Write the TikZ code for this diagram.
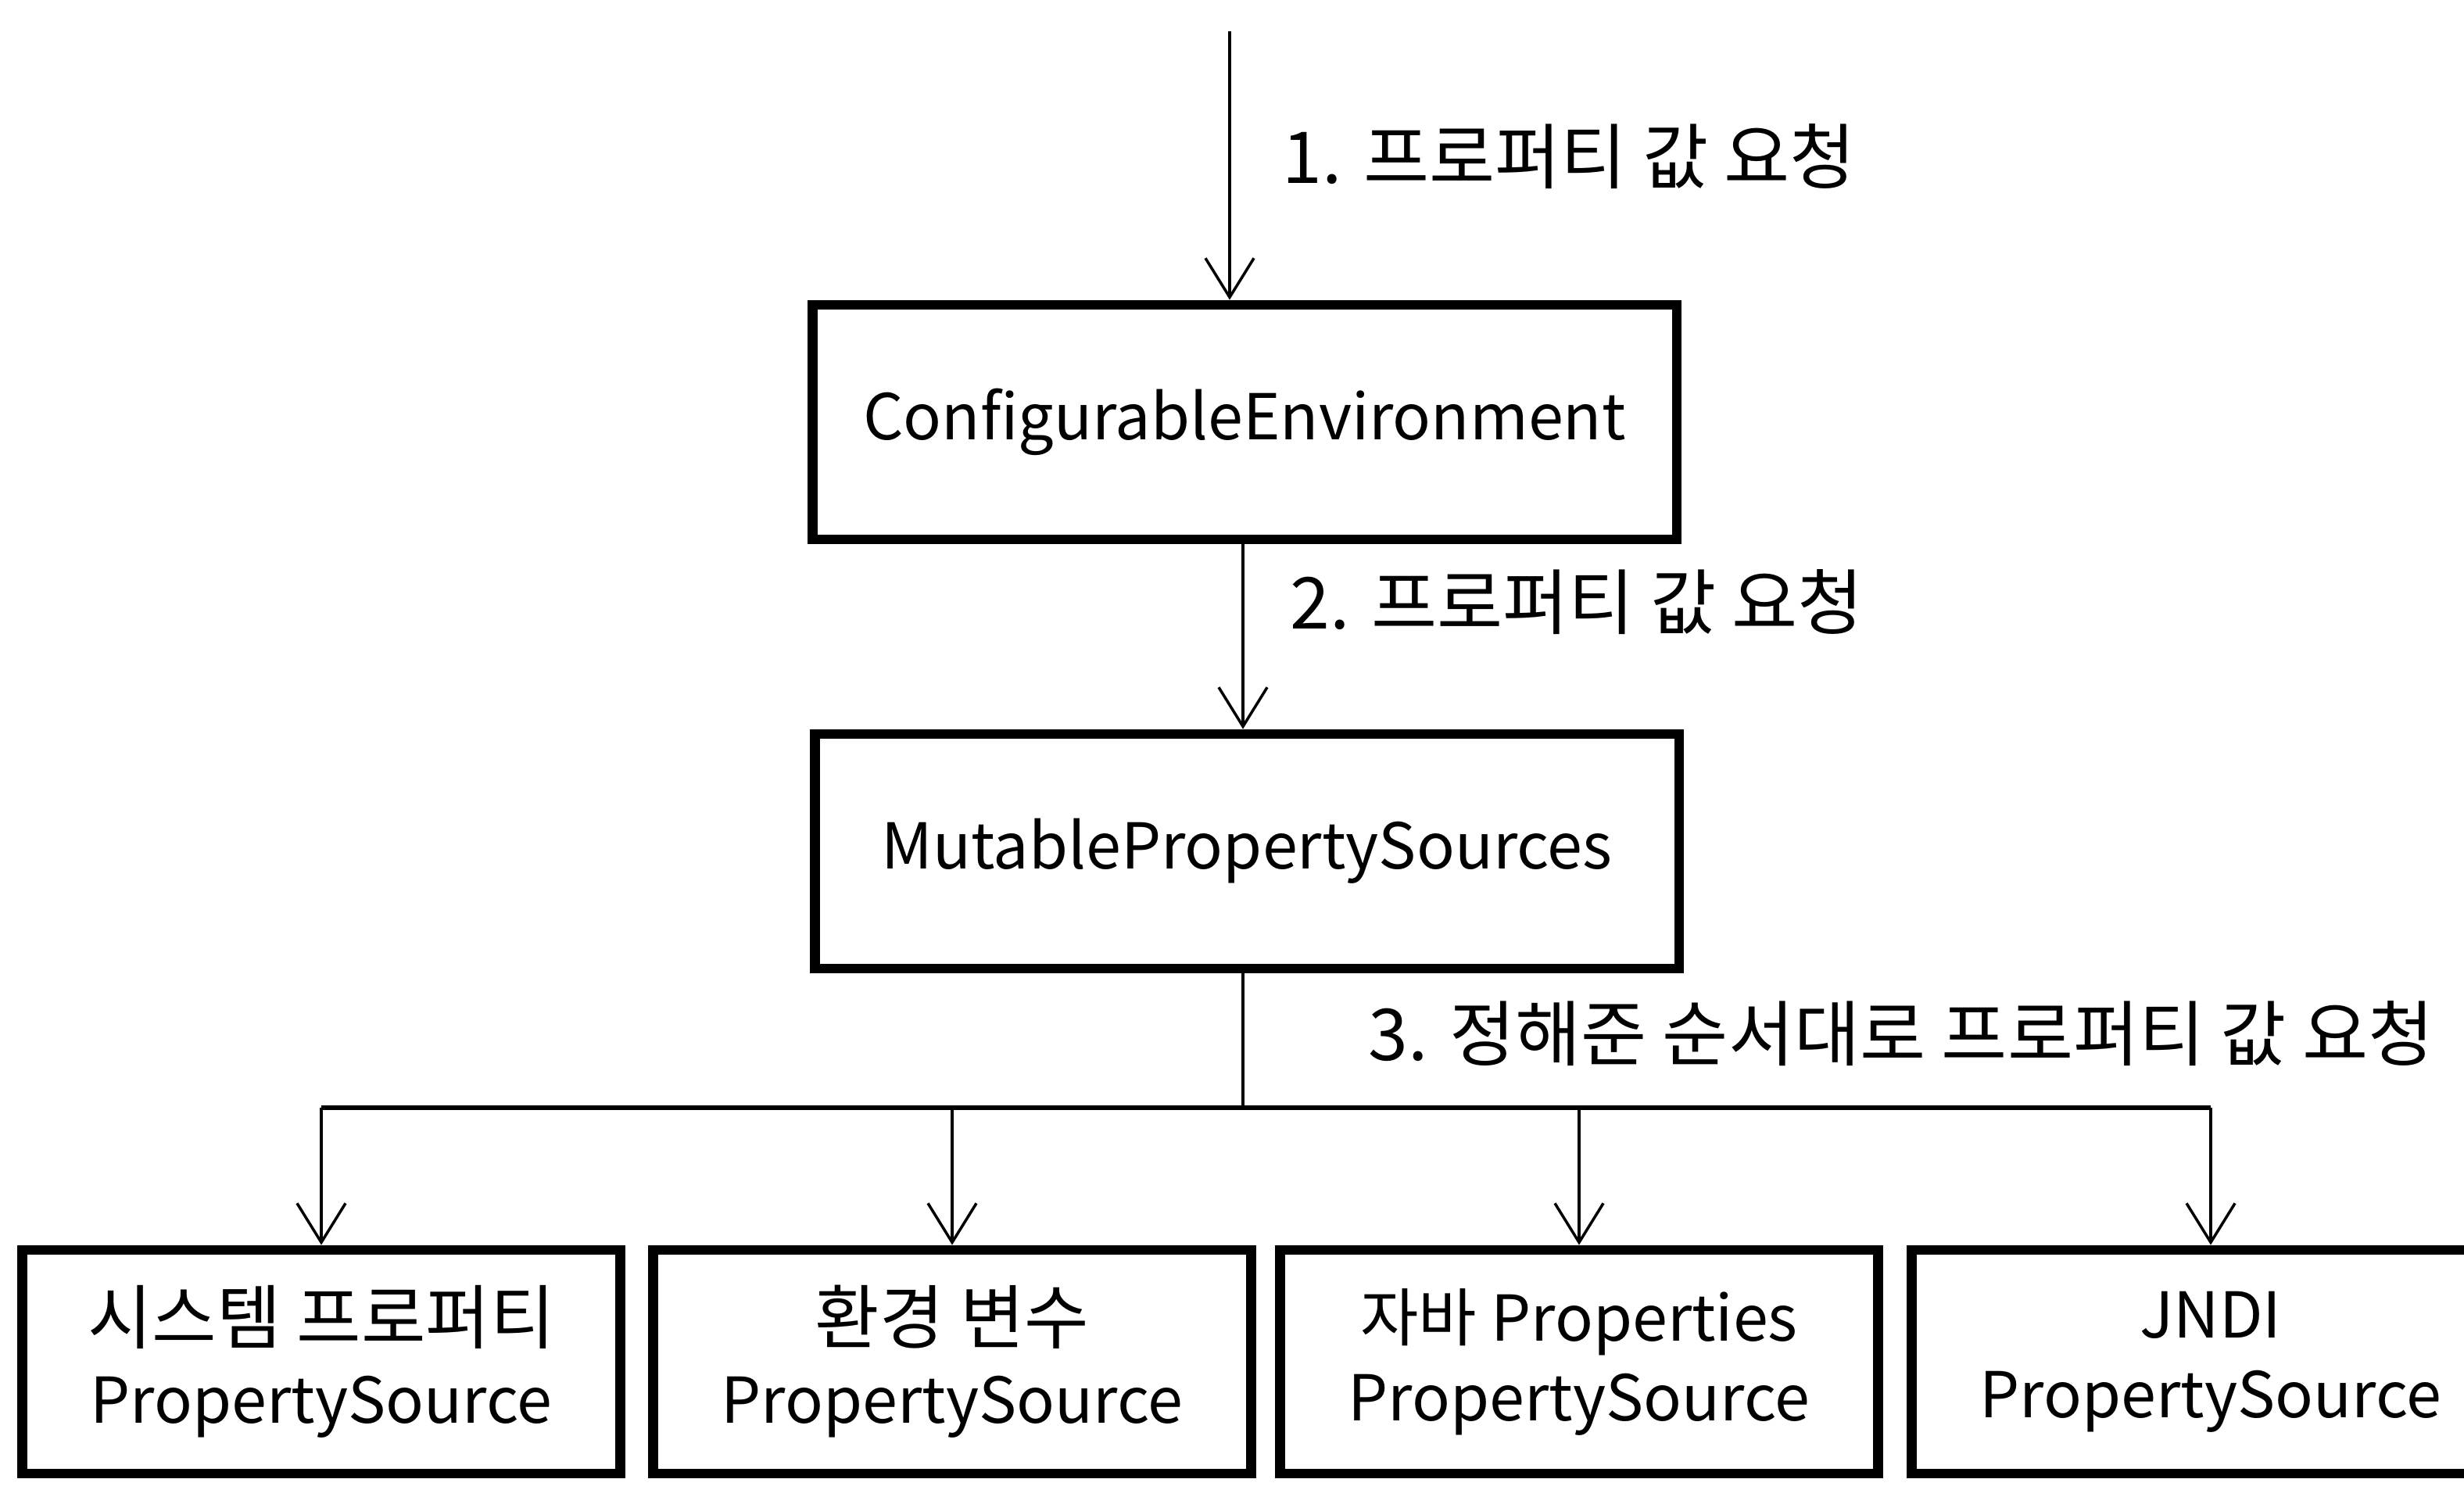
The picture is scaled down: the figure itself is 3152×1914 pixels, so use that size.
\documentclass[tikz,border=0pt]{standalone}
\usepackage{fontspec}
\setmainfont{Noto Sans CJK KR}
\usetikzlibrary{arrows.meta}

\begin{document}
\begin{tikzpicture}[y=-0.01cm,x=0.01cm,
	box/.style={draw, line width=3.6pt, align=center, inner sep=0pt, font=\fontsize{23}{29}\selectfont},
	wide/.style={box, minimum width=11.05cm, minimum height=3cm},
	src/.style={box, minimum width=7.65cm, minimum height=2.86cm},
	req/.style={anchor=west, inner sep=0pt, font=\fontsize{26}{30}\selectfont},
	arr/.style={-{Straight Barb[length=0.5cm,width=0.62cm]}, line width=1pt},
	bus/.style={line width=1.6pt}]
	\useasboundingbox (0,0) rectangle (3152,1914);
	\clip (0,0) rectangle (3152,1914);

	\node[wide] (env) at (1592,540) {ConfigurableEnvironment};
	\node[wide] (mps) at (1595,1089) {MutablePropertySources};

	\node[src] (psSys) at (411,1742) {\fontsize{25.5}{29}\selectfont 시스템 프로퍼티\\PropertySource};
	\node[src] (psEnv) at (1218,1742) {\fontsize{25.5}{29}\selectfont 환경 변수\\PropertySource};
	\node[src] (psJava) at (2020,1742) {자바 Properties\\PropertySource};
	\node[src] (psJndi) at (2828,1742) {JNDI\\PropertySource};

	% requests
	\coordinate (in) at (1573,40);
	\coordinate (bus) at (1590,1417);
	\draw[arr] (in) -- (in |- env.north);
	\draw[arr] (bus |- env.south) -- (bus |- mps.north);
	\draw[line width=1pt] (bus |- mps.south) -- (bus);
	\draw[bus] (psSys.north |- bus) -- (psJndi.north |- bus);
	\foreach \n in {psSys,psEnv,psJava,psJndi}
		\draw[arr] (\n.north |- bus) -- (\n.north);

	\node[req] (q1) at (1640,200) {1. 프로퍼티 값 요청};
	\node[req] (q2) at (1650,770) {2. 프로퍼티 값 요청};
	\node[req] (q3) at (1750,1322) {3. 정해준 순서대로 프로퍼티 값 요청};
\end{tikzpicture}
\end{document}
